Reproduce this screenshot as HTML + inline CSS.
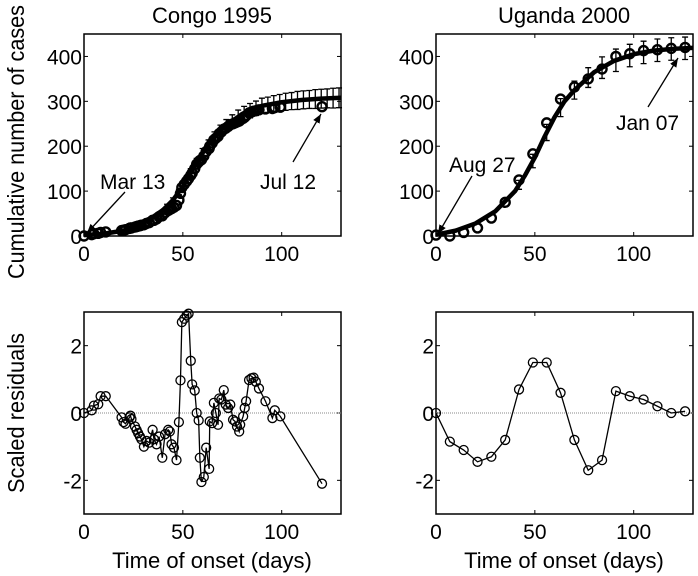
<!DOCTYPE html>
<html><head><meta charset="utf-8"><style>
body{margin:0;background:#fff}
svg{display:block;font-family:"Liberation Sans",Arial,sans-serif}
</style></head><body>
<svg id="c" width="698" height="576" viewBox="0 0 698 576"></svg>
<script>
const congoDays=[0,3.9,5,7.2,8.4,11,19,20,21,23,23.5,24,25.8,26.6,27.4,28.3,29,30.3,31.6,33,34.7,35.4,36.7,38,39.6,41,42.6,43.4,44.3,45.5,46.8,48,48.8,49.5,50.7,51.9,52.9,54,54.7,56,57,58,58.6,59.4,60.6,61.8,63.3,63.6,64.8,65.7,66.7,67.8,68.4,69.5,70.7,71.7,72.9,74,75.4,76.4,77.4,78.5,79,80.5,81.3,82,83.5,84.7,85.8,86.9,88.5,91.8,95.3,96.5,99.3,120.4];
const congoCases=[0,3,5,6,8,9,12,13,14,17,18,18,20,21,22,23,24,25,28,30,35,35,38,43,45,52,57,59,61,64,68,80,95,108,115,122,128,135,140,150,160,165,168,170,178,188,195,200,207,214,218,222,228,232,238,240,244,248,250,252,254,256,258,262,265,268,274,276,278,279,281,283,284,286,287,288];
const congoResid=[0,0.08,0.22,0.26,0.5,0.5,-0.13,-0.27,-0.32,-0.13,-0.08,-0.18,-0.4,-0.5,-0.6,-0.7,-0.78,-1.0,-0.83,-0.88,-0.5,-0.78,-0.93,-0.7,-1.33,-0.63,-0.5,-0.55,-0.93,-1.03,-1.4,-0.27,0.97,2.7,2.8,2.9,2.95,1.55,0.85,0.67,0,-0.22,-1.33,-2.05,-1.9,-1.03,-1.66,-0.25,-0.3,0.3,0,-0.35,0.43,0.4,0.68,0.25,0.15,0.25,-0.2,-0.25,-0.4,-0.55,-0.35,-0.1,0.15,0.35,0.98,1.03,1.05,0.93,0.73,0.35,-0.15,0.08,-0.1,-2.1];
const congoFitDays=[0,10,20,30,40,45,50,55,60,65,70,80,90,100,110,120,130];
const congoFit=[2,5,12,28,58,80,110,150,185,215,240,272,290,298,303,306,308];
const congoErrDays=[42,45,48,51,54,57,60,63,66,69,72,75,78,81,84,87,90,93,96,99,102,105,108,111,114,117,120,123,126,129];
const congoErrHalf=[4,5,6,7,8,9,10,11,12,12,13,14,15,15,16,16,17,17,18,18,19,19,20,20,20,21,21,21,22,22];
const ugDays=[0,7,14,21,28,35,42,49,56,63,70,77,84,91,98,105,112,119,126];
const ugCases=[2,0,8,18,40,75,125,183,252,305,332,350,372,400,406,413,415,418,420];
const ugResid=[0,-0.85,-1.1,-1.45,-1.3,-0.8,0.7,1.5,1.5,0.6,-0.8,-1.7,-1.4,0.65,0.5,0.4,0.2,0,0.05];
const ugFitDays=[0,10,20,30,40,45,50,55,60,65,70,80,90,100,110,120,130];
const ugFit=[3,12,28,55,100,135,175,222,265,300,325,365,390,405,413,417,419];
const ugErrDays=[42,49,56,63,70,77,84,91,98,105,112,119,126];
const ugErrHalf=[10,15,18,20,20,22,24,25,25,25,25,25,25];
const xTicks=[0,50,100];
const cumTicks=[0,100,200,300,400];
const resTicks=[-2,0,2];

const NS="http://www.w3.org/2000/svg", svg=document.getElementById('c');
function mk(t,a,p){const e=document.createElementNS(NS,t);for(const k in a)e.setAttribute(k,a[k]);(p||svg).appendChild(e);return e;}
function interp(xs,ys,x){for(let i=0;i<xs.length-1;i++){if(x<=xs[i+1]){const f=(x-xs[i])/(xs[i+1]-xs[i]);return ys[i]+f*(ys[i+1]-ys[i]);}}return ys[ys.length-1];}
function panel(name,L,T,W,H,ymin,ymax,yt){
  const g=mk('g',{});
  
  
  const sx=v=>L+v/130*W, sy=v=>T+H-(v-ymin)/(ymax-ymin)*H;
  const f=mk('rect',{x:L,y:T,width:W,height:H,fill:'none',stroke:'#000','stroke-width':1.5},g);
  
  xTicks.forEach(v=>{mk('line',{x1:sx(v),x2:sx(v),y1:T+H,y2:T+H-4,stroke:'#000'},g);mk('line',{x1:sx(v),x2:sx(v),y1:T,y2:T+4,stroke:'#000'},g);
    const t=mk('text',{x:sx(v),y:T+H+25,'font-size':21,'text-anchor':'middle'},g);t.textContent=v;
    });
  yt.forEach(v=>{mk('line',{x1:L,x2:L+4,y1:sy(v),y2:sy(v),stroke:'#000'},g);mk('line',{x1:L+W,x2:L+W-4,y1:sy(v),y2:sy(v),stroke:'#000'},g);
    const t=mk('text',{x:L-2,y:sy(v)+8,'font-size':21,'text-anchor':'end'},g);t.textContent=v;
    });
  return {g,sx,sy};
}
function cum(name,L,title,days,cases,fd,fv,ed,eh){
  const p=panel(name,L,34,257,202,0,450,cumTicks);
  const t=mk('text',{x:L+128,y:23,'font-size':22,'text-anchor':'middle'},p.g);t.textContent=title;
  
  ed.forEach((d,i)=>{const y=interp(fd,fv,d),x=p.sx(d);
    const e=mk('path',{d:`M${x},${p.sy(y-eh[i])}V${p.sy(y+eh[i])}M${x-3},${p.sy(y-eh[i])}h6M${x-3},${p.sy(y+eh[i])}h6`,stroke:'#000','stroke-width':1.3,fill:'none'},p.g);
    });
  const fl=mk('polyline',{points:fd.map((d,i)=>p.sx(d)+','+p.sy(fv[i])).join(' '),fill:'none',stroke:'#000','stroke-width':4.5,'stroke-linejoin':'round'},p.g);
  
  days.forEach((d,i)=>{const c=mk('circle',{cx:p.sx(d),cy:p.sy(cases[i]),r:4.5,fill:'none',stroke:'#000','stroke-width':2.4},p.g);
    });
  return p;
}
function res(name,L,days,vals){
  const p=panel(name,L,312,257,202,-3,3,resTicks);
  const z=mk('line',{x1:L,x2:L+257,y1:p.sy(0),y2:p.sy(0),stroke:'#888','stroke-width':1,'stroke-dasharray':'1,1'},p.g);
  
  const ln=mk('polyline',{points:days.map((d,i)=>p.sx(d)+','+p.sy(vals[i])).join(' '),fill:'none',stroke:'#000','stroke-width':1.3},p.g);
  
  days.forEach((d,i)=>{const c=mk('circle',{cx:p.sx(d),cy:p.sy(vals[i]),r:4.5,fill:'none',stroke:'#000','stroke-width':1.3},p.g);
    });
  const t=mk('text',{x:L+128,y:568,'font-size':22,'text-anchor':'middle'},p.g);t.textContent='Time of onset (days)';
  
}
cum('congo-cumulative-panel',84,'Congo 1995',congoDays,congoCases,congoFitDays,congoFit,congoErrDays,congoErrHalf);
cum('uganda-cumulative-panel',436,'Uganda 2000',ugDays,ugCases,ugFitDays,ugFit,ugErrDays,ugErrHalf);
res('congo-residual-panel',84,congoDays,congoResid);
res('uganda-residual-panel',436,ugDays,ugResid);
mk('defs',{}).innerHTML='<marker id="ah" viewBox="0 0 10 10" refX="10" refY="5" markerWidth="7" markerHeight="7" orient="auto"><path d="M0,1L10,5L0,9z"/></marker>';
function ann(txt,tx,ty,x1,y1,x2,y2){
  const t=mk('text',{x:tx,y:ty,'font-size':21});t.textContent=txt;
  
  const a=mk('line',{x1,y1,x2,y2,stroke:'#000','stroke-width':1.3,'marker-end':'url(#ah)'});
  
}
ann('Mar 13',100,189,125,192,87,233);
ann('Jul 12',260,189,293,162,321,114);
ann('Aug 27',449,172,472,176,438,234);
ann('Jan 07',616,130,648,107,678,58);
function yt(txt,y,len){const t=mk('text',{x:0,y:0,'font-size':23,'text-anchor':'middle',textLength:len,lengthAdjust:'spacingAndGlyphs',transform:`translate(24,${y}) rotate(-90)`});t.textContent=txt;
  }
yt('Cumulative number of cases',142,274);
yt('Scaled residuals',413,160);
</script>
</body></html>
